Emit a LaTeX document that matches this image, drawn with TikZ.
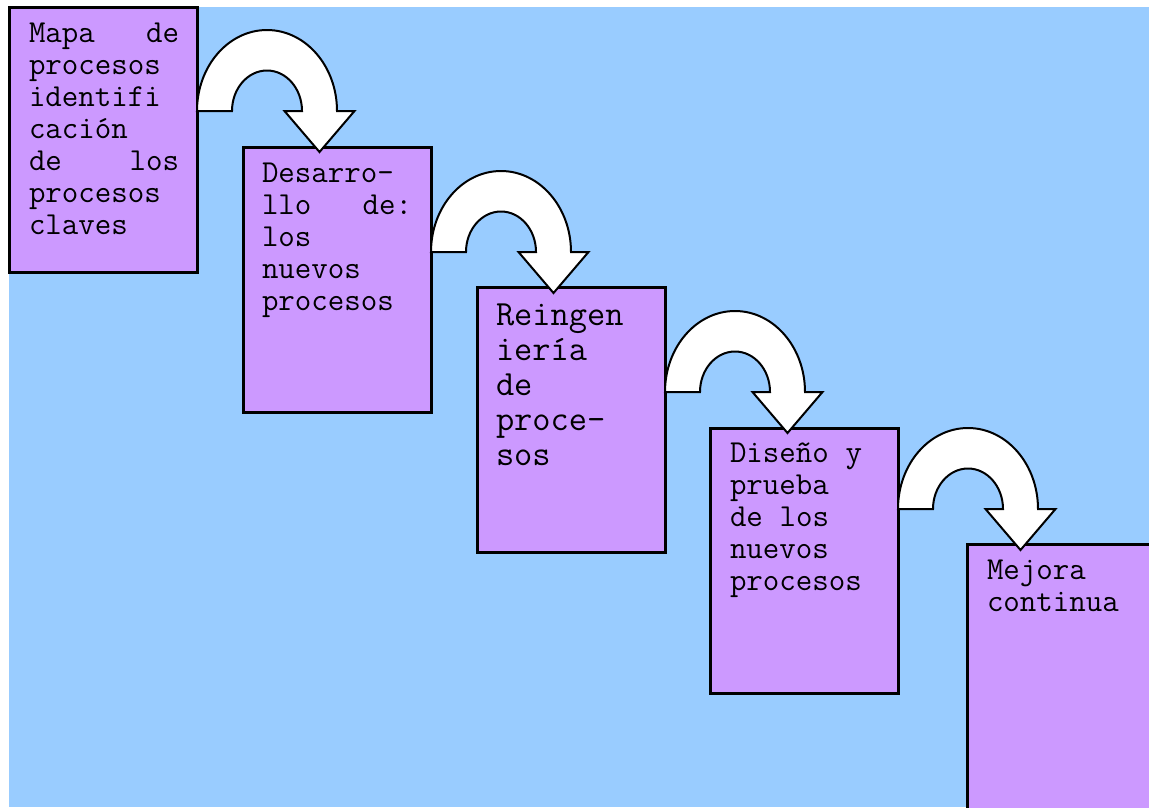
\documentclass[tikz,border=0pt]{standalone}
\usepackage{fontspec}
\newfontfamily\boxfont{Latin Modern Mono}
\usetikzlibrary{calc}
\definecolor{sky}{HTML}{99CCFF}
\definecolor{lilac}{HTML}{CC99FF}
% one full typewriter cell of blank space
\newcommand\tabgap{\hbox to 0.525em{}}
\begin{document}
\begin{tikzpicture}[x=1pt,y=1pt,
  stagebox/.style={draw=black, line width=3pt, fill=lilac, rectangle,
    minimum width=188pt, minimum height=265pt, inner sep=0pt, outer sep=0pt,
    anchor=north west},
  stagetext/.style={anchor=base west, inner sep=0pt, outer sep=0pt,
    text width=150pt, align=left, font=\boxfont\fontsize{32}{32}\selectfont},
  bigtext/.style={stagetext, font=\boxfont\fontsize{35.4}{35}\selectfont},
  uturn/.pic={
    \draw[line width=2pt, fill=white, line join=miter]
      (0,0) arc[start angle=180, end angle=0, x radius=70, y radius=81]
      -- ++(17.5,0) -- ++(-35,-41) -- ++(-35,41) -- ++(17.5,0)
      arc[start angle=0, end angle=180, x radius=35, y radius=40.5]
      -- cycle;
  }
]
\useasboundingbox (0,0) rectangle (1149,-807);
\clip (0,0) rectangle (1149,-807);
% backdrop
\fill[sky] (9,-7) rectangle (1149,-807);

% the five stages
\node[stagebox] (b1) at (9,-7) {};
\node[stagebox] (b2) at (243,-147) {};
\node[stagebox] (b3) at (477,-287) {};
\node[stagebox] (b4) at (710,-428) {};
\node[stagebox] (b5) at (967,-544) {};

\node[stagetext] (t1) at ($(b1.north west)+(20,-35)$)
  {\leavevmode\hbox to\linewidth{Mapa\hfill de}\\procesos\\identifi\\cación\\\leavevmode\hbox to\linewidth{de\hfill los}\\procesos\\claves};
\node[stagetext] (t2) at ($(b2.north west)+(19,-35)$)
  {Desarro-\\\leavevmode\hbox to\linewidth{llo\hfill de:}\\los\\nuevos\\procesos};
\node[bigtext] (t3) at ($(b3.north west)+(19,-38)$)
  {Reingen\\iería\\de\\proce-\\sos};
\node[stagetext] (t4) at ($(b4.north west)+(20,-34)$)
  {Diseño\tabgap y\\prueba\\de\tabgap los\\nuevos\\procesos};
\node[stagetext] (t5) at ($(b5.north west)+(20,-35)$)
  {Mejora\\continua};

% curved arrows from each stage to the next
\pic (a1) at ($(b1.north east)+(0,-104)$) {uturn};
\pic (a2) at ($(b2.north east)+(0,-105)$) {uturn};
\pic (a3) at ($(b3.north east)+(0,-105)$) {uturn};
\pic (a4) at ($(b4.north east)+(0,-81)$) {uturn};
\end{tikzpicture}
\end{document}
